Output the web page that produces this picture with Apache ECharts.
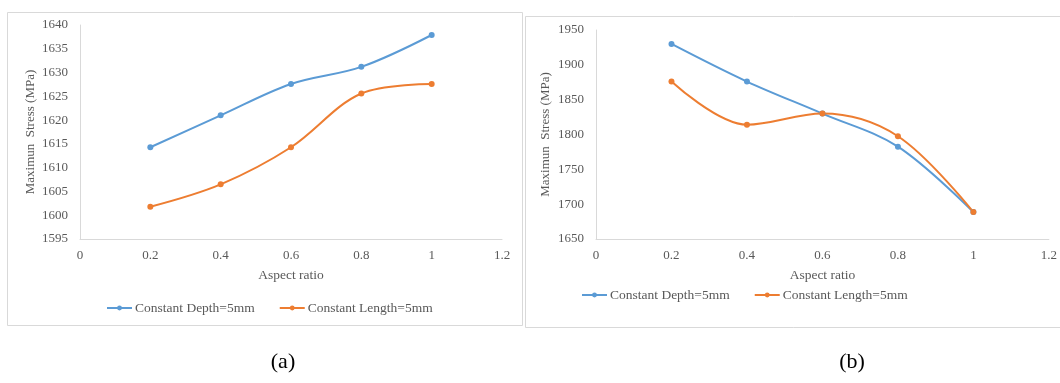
<!DOCTYPE html>
<html>
<head>
<meta charset="utf-8">
<script src="https://cdn.jsdelivr.net/npm/echarts@6/dist/echarts.min.js"></script>
<style>
  html, body { margin: 0; padding: 0; background: #fff; }
  #chart { width: 1060px; height: 383px; }
</style>
</head>
<body>
<div id="chart"></div>
<script>
  // aspect ratios shared by both panels
  const aspectRatio = [0.2, 0.4, 0.6, 0.8, 1];

  // panel (a)
  const depthA = [1614.3, 1621.0, 1627.6, 1631.2, 1637.9];
  const lengthA = [1601.8, 1606.5, 1614.3, 1625.6, 1627.6];

  // panel (b)
  const depthB = [1930, 1876, 1830, 1782.5, 1688.6];
  const lengthB = [1876, 1814, 1830, 1797.5, 1688.6];

  const seriesNames = ['Constant Depth=5mm', 'Constant Length=5mm'];
  const captions = ['(a)', '(b)'];

  const FONT = '"Liberation Serif", "Times New Roman", serif';
  const GRAY = '#595959';
  const AXIS = '#d9d9d9';
  const BLUE = '#5b9bd5';
  const ORANGE = '#ed7d31';

  let pairs = (ys) => aspectRatio.map((x, i) => [x, ys[i]]);

  let xAxisFor = (gridIndex) => ({
    type: 'value',
    gridIndex: gridIndex,
    min: 0,
    max: 1.2,
    interval: 0.2,
    name: 'Aspect ratio',
    nameLocation: 'middle',
    nameGap: 29,
    nameTextStyle: { fontFamily: FONT, fontSize: 13.5, color: GRAY },
    axisLine: { show: true, lineStyle: { color: AXIS, width: 1 } },
    axisTick: { show: false },
    splitLine: { show: false },
    axisLabel: { fontFamily: FONT, fontSize: 13, color: GRAY, margin: 10 },
  });

  let yAxisFor = (gridIndex, min, max, interval, nameGap) => ({
    type: 'value',
    gridIndex: gridIndex,
    min: min,
    max: max,
    interval: interval,
    name: 'Maximun  Stress (MPa)',
    nameLocation: 'middle',
    nameGap: nameGap,
    nameTextStyle: { fontFamily: FONT, fontSize: 13, color: GRAY },
    axisLine: { show: true, lineStyle: { color: AXIS, width: 1 } },
    axisTick: { show: false },
    splitLine: { show: false },
    axisLabel: {
      fontFamily: FONT, fontSize: 13, color: GRAY, margin: 12,
      formatter: (v) => String(v),
    },
  });

  let lineSeries = (name, ys, color, axisIndex) => ({
    name: name,
    type: 'line',
    xAxisIndex: axisIndex,
    yAxisIndex: axisIndex,
    data: pairs(ys),
    smooth: 0.35,
    symbol: 'circle',
    symbolSize: 6,
    lineStyle: { color: color, width: 2 },
    itemStyle: { color: color },
  });

  let legendFor = (left, top) => ({
    left: left,
    top: top,
    itemWidth: 25,
    itemHeight: 6,
    itemGap: 24,
    data: seriesNames,
    textStyle: { fontFamily: FONT, fontSize: 13.5, color: GRAY, padding: [0, 0, 0, -2] },
  });

  let chart = echarts.init(document.getElementById('chart'));
  chart.setOption({
    animation: false,
    backgroundColor: '#fff',
    grid: [
      { left: 80, right: 558, top: 25, bottom: 144 },
      { left: 596, right: 11, top: 30, bottom: 144 },
    ],
    xAxis: [xAxisFor(0), xAxisFor(1)],
    yAxis: [
      yAxisFor(0, 1595, 1640, 5, 43),
      yAxisFor(1, 1650, 1950, 50, 44),
    ],
    legend: [legendFor(101, 296), legendFor(576, 283)],
    series: [
      lineSeries(seriesNames[0], depthA, BLUE, 0),
      lineSeries(seriesNames[1], lengthA, ORANGE, 0),
      lineSeries(seriesNames[0], depthB, BLUE, 1),
      lineSeries(seriesNames[1], lengthB, ORANGE, 1),
    ],
    graphic: [
      // chart frames
      { type: 'rect', shape: { x: 7.5, y: 12.5, width: 515, height: 313 },
        style: { fill: 'none', stroke: AXIS, lineWidth: 1 }, silent: true },
      { type: 'rect', shape: { x: 525.5, y: 16.5, width: 540, height: 311 },
        style: { fill: 'none', stroke: AXIS, lineWidth: 1 }, silent: true },
      // panel captions
      { type: 'text', x: 283, y: 362,
        style: { text: captions[0], font: '22px ' + FONT, fill: '#000', align: 'center', verticalAlign: 'middle' } },
      { type: 'text', x: 852, y: 362,
        style: { text: captions[1], font: '22px ' + FONT, fill: '#000', align: 'center', verticalAlign: 'middle' } },
    ],
  });
</script>
</body>
</html>
